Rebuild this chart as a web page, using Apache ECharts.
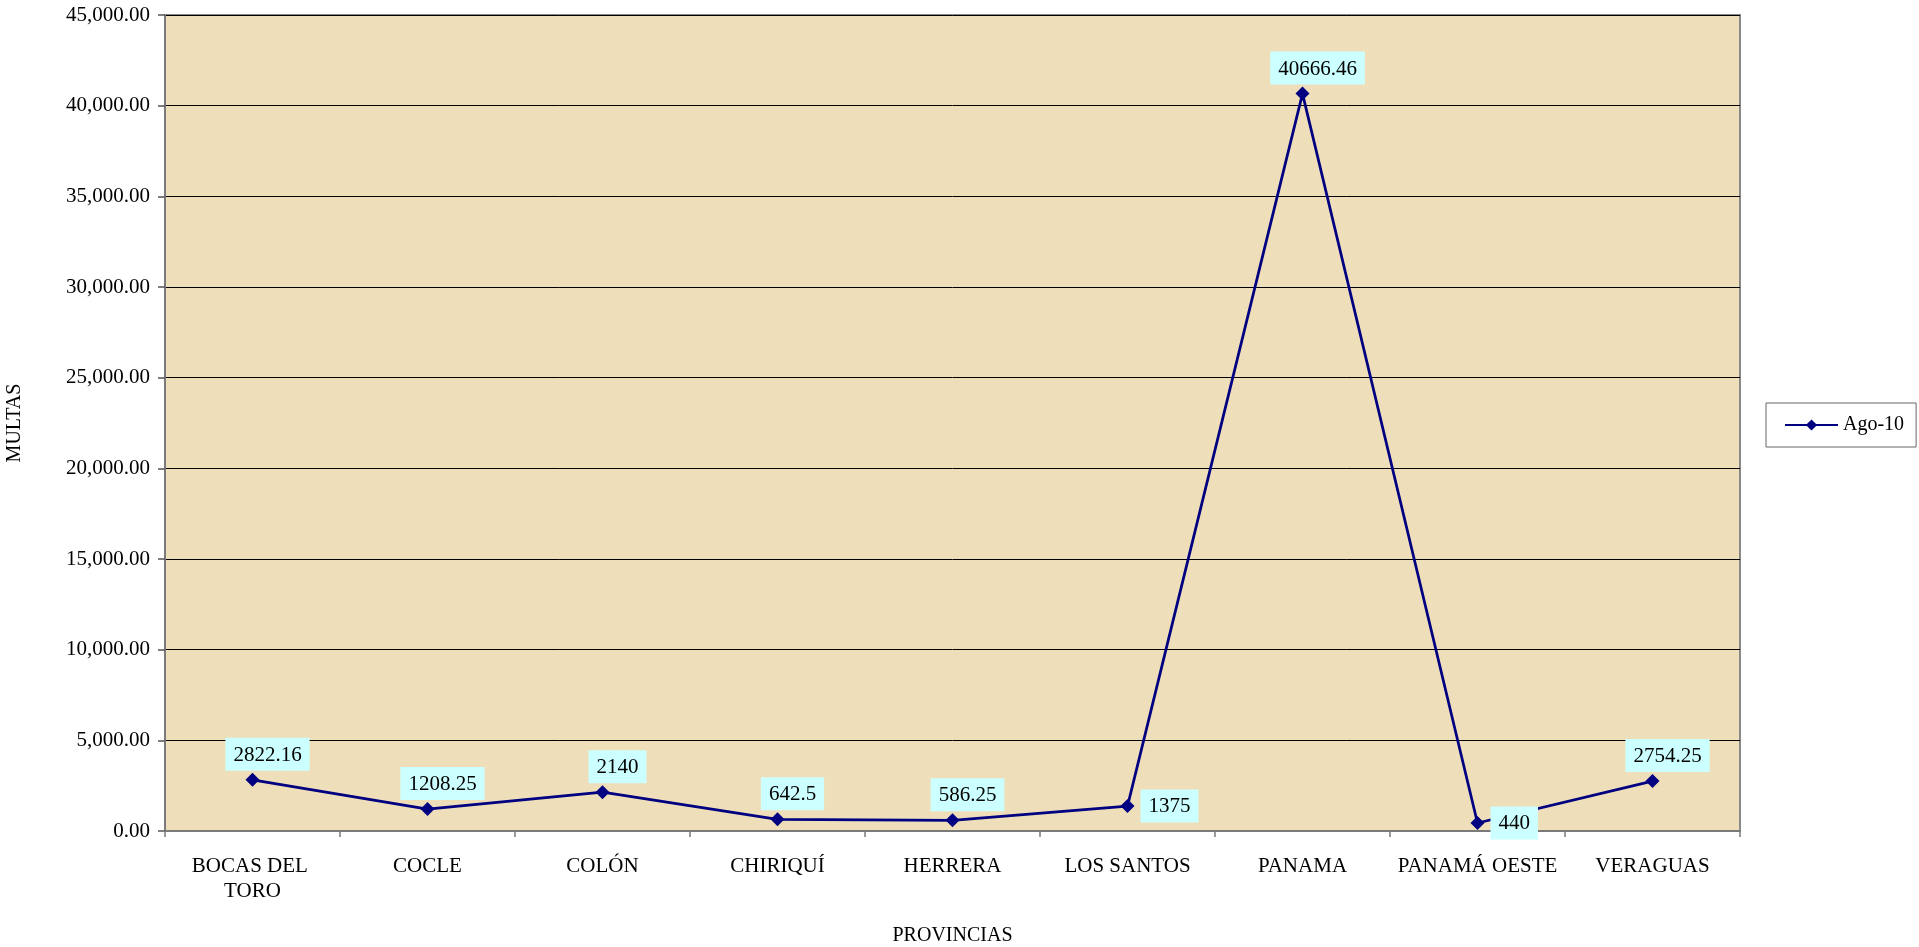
<!DOCTYPE html>
<html>
<head>
<meta charset="utf-8">
<script src="https://cdn.jsdelivr.net/npm/echarts@6/dist/echarts.min.js"></script>
<style>
html,body{margin:0;padding:0;background:#fff;}
#chart{width:1919px;height:947px;}
</style>
</head>
<body>
<div id="chart"></div>
<script>
const categories = ['BOCAS DEL TORO','COCLE','COLÓN','CHIRIQUÍ','HERRERA','LOS SANTOS','PANAMA','PANAMÁ OESTE','VERAGUAS'];
const values = [2822.16, 1208.25, 2140, 642.5, 586.25, 1375, 40666.46, 440, 2754.25];
const labelSides = ['top','top','top','top','top','right','top','right','top'];
const seriesName = 'Ago-10';
const yMin = 0, yMax = 45000, yInterval = 5000;

const FONT = '"Liberation Serif", "Times New Roman", serif';
const chart = echarts.init(document.getElementById('chart'));

const data = values.map((v, i) => {
  const side = labelSides[i];
  return {
    value: v,
    label: side === 'top'
      ? { position: 'top', distance: 2, offset: [15, 0] }
      : { position: 'right', distance: 6, offset: [0, 0] }
  };
});

chart.setOption({
  animation: false,
  textStyle: { fontFamily: FONT },
  grid: {
    left: 165, right: 179, top: 15, bottom: 116,
    outerBoundsMode: 'none',
    containLabel: false,
    show: true,
    backgroundColor: '#EEDEB9',
    borderColor: '#8a8a8a',
    borderWidth: 2
  },
  legend: {
    show: true,
    orient: 'vertical',
    left: 1766, top: 403,
    padding: [12, 12, 12, 18],
    itemWidth: 53, itemHeight: 14,
    itemGap: 4,
    borderColor: '#666',
    borderWidth: 1,
    backgroundColor: '#fff',
    textStyle: { fontFamily: FONT, fontSize: 20, color: '#000', padding: [0, 0, 0, 0] },
    data: [seriesName]
  },
  xAxis: {
    type: 'category',
    data: categories,
    boundaryGap: true,
    name: 'PROVINCIAS',
    nameLocation: 'middle',
    nameGap: 95,
    nameTextStyle: { fontFamily: FONT, fontSize: 20, color: '#000' },
    axisLine: { show: true, lineStyle: { color: '#7a7a7a', width: 2 } },
    axisTick: { show: true, alignWithLabel: false, length: 6, lineStyle: { color: '#7a7a7a', width: 1.5 } },
    axisLabel: {
      fontFamily: FONT, fontSize: 21, color: '#000',
      margin: 23, interval: 0,
      width: 170, overflow: 'break', lineHeight: 25
    },
    splitLine: { show: false }
  },
  yAxis: {
    type: 'value',
    min: yMin, max: yMax, interval: yInterval,
    name: 'MULTAS',
    nameLocation: 'middle',
    nameGap: 140,
    nameRotate: 90,
    nameTextStyle: { fontFamily: FONT, fontSize: 20, color: '#000' },
    axisLine: { show: true, lineStyle: { color: '#7a7a7a', width: 2 } },
    axisTick: { show: true, length: 7, lineStyle: { color: '#555', width: 1.5 } },
    axisLabel: {
      fontFamily: FONT, fontSize: 21, color: '#000', margin: 15,
      formatter: v => v.toLocaleString('en-US', { minimumFractionDigits: 2, maximumFractionDigits: 2 })
    },
    splitLine: { show: true, lineStyle: { color: '#000', width: 1 } }
  },
  series: [{
    name: seriesName,
    type: 'line',
    data: data,
    symbol: 'diamond',
    symbolSize: 14,
    itemStyle: { color: '#000080' },
    lineStyle: { color: '#000080', width: 2.75 },
    label: {
      show: true,
      fontFamily: FONT, fontSize: 21, color: '#000',
      backgroundColor: '#CCFFFF',
      padding: [7, 8, 5, 8],
      formatter: p => String(p.value)
    }
  }]
});
</script>
</body>
</html>
